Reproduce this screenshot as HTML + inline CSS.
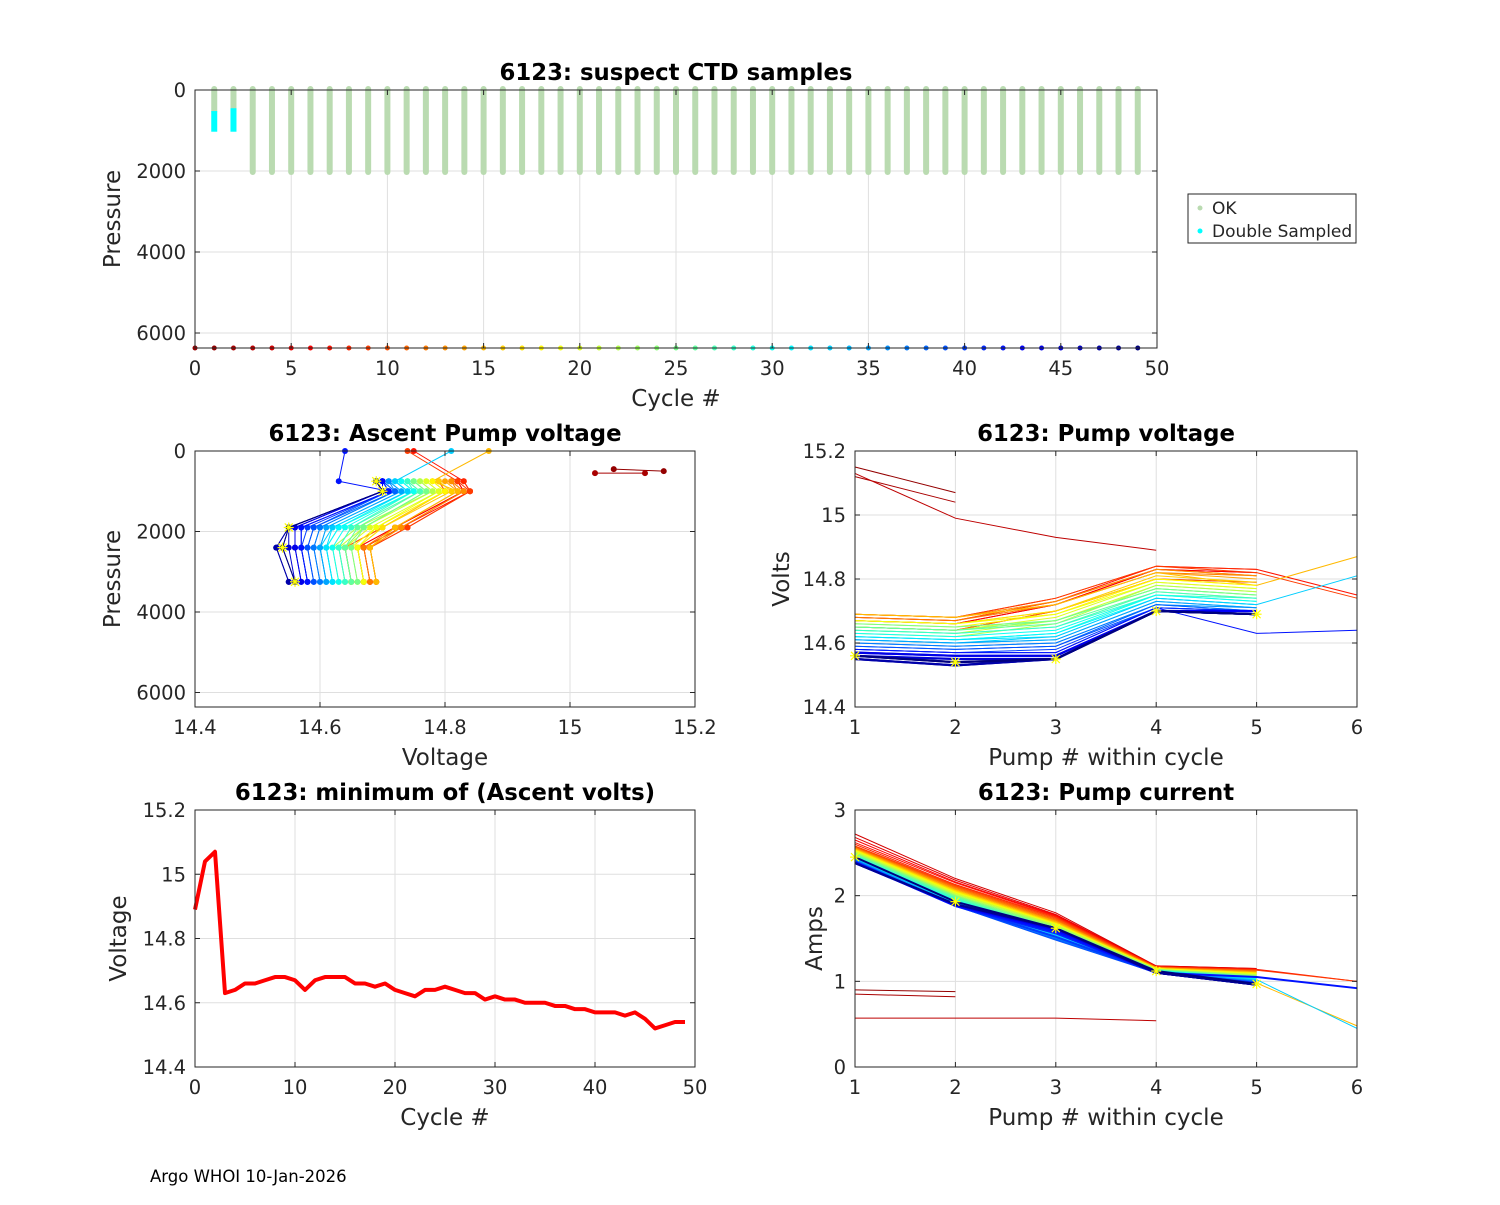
<!DOCTYPE html>
<html><head><meta charset="utf-8"><style>
body{margin:0;background:#fff;}
svg text{font-family:"DejaVu Sans","Liberation Sans",sans-serif;fill:#262626;}
</style></head><body>
<svg id="fig" width="1500" height="1200" xmlns="http://www.w3.org/2000/svg"></svg>
<script>
// ===== DATA =====
const cycles = [];
for (let c = 0; c <= 49; c++) cycles.push(c);
const minVolts = [14.89,15.04,15.07,14.63,14.64,14.66,14.66,14.67,14.68,14.68,14.67,14.64,14.67,14.68,14.68,14.68,14.66,14.66,14.65,14.66,14.64,14.63,14.62,14.64,14.64,14.65,14.64,14.63,14.63,14.61,14.62,14.61,14.61,14.60,14.60,14.60,14.59,14.59,14.58,14.58,14.57,14.57,14.57,14.56,14.57,14.55,14.52,14.53,14.54,14.54];
// pump voltages per cycle (cycles 1..49)
const pumpVolts = [
[15.15,15.07],[15.12,15.04],[15.13,14.99,14.93,14.89],
[14.65,14.64,14.70,14.80,14.79],[14.67,14.66,14.72,14.83,14.82],[14.67,14.66,14.72,14.83,14.82],
[14.68,14.67,14.73,14.84,14.83,14.75],[14.69,14.68,14.74,14.84,14.83],[14.69,14.68,14.74,14.84,14.82,14.74],
[14.68,14.67,14.73,14.83,14.81],[14.65,14.64,14.70,14.80,14.79],[14.68,14.67,14.72,14.82,14.81],
[14.69,14.68,14.73,14.83,14.81],[14.69,14.68,14.72,14.82,14.80],[14.69,14.68,14.72,14.82,14.78,14.87],
[14.67,14.66,14.70,14.81,14.79],[14.67,14.66,14.70,14.80,14.78],[14.66,14.65,14.69,14.80,14.78],
[14.67,14.66,14.69,14.79,14.77],[14.65,14.64,14.68,14.79,14.77],[14.64,14.63,14.67,14.78,14.76],
[14.63,14.62,14.66,14.78,14.76],[14.65,14.64,14.67,14.77,14.75],[14.65,14.64,14.67,14.77,14.75],
[14.66,14.65,14.67,14.77,14.75],[14.65,14.64,14.66,14.76,14.74],[14.64,14.63,14.65,14.76,14.74],
[14.64,14.63,14.65,14.75,14.74],[14.62,14.61,14.63,14.75,14.73],[14.63,14.62,14.64,14.75,14.73],
[14.62,14.61,14.63,14.74,14.72],[14.62,14.61,14.62,14.74,14.72],[14.61,14.60,14.62,14.74,14.72,14.81],
[14.61,14.60,14.61,14.73,14.71],[14.61,14.60,14.61,14.73,14.71],[14.60,14.59,14.60,14.72,14.71],
[14.60,14.59,14.60,14.72,14.70],[14.59,14.58,14.59,14.72,14.70],[14.59,14.58,14.59,14.71,14.70],
[14.58,14.57,14.58,14.71,14.70],[14.58,14.57,14.57,14.71,14.70],[14.58,14.57,14.57,14.71,14.63,14.64],
[14.57,14.56,14.56,14.70,14.70],[14.57,14.56,14.56,14.70,14.69],[14.56,14.55,14.55,14.70,14.69],
[14.55,14.53,14.55,14.70,14.69],[14.55,14.53,14.55,14.70,14.69],[14.56,14.54,14.55,14.70,14.69],
[14.56,14.54,14.55,14.70,14.69]];
// pump currents per cycle (cycles 1..49)
const pumpAmps = [
[0.90,0.88],[0.85,0.82],[0.57,0.57,0.57,0.54],
[2.72,2.20,1.80,1.18,1.15],[2.68,2.18,1.78,1.18,1.15],[2.65,2.16,1.77,1.17,1.14],
[2.62,2.15,1.76,1.17,1.14,1.00],[2.60,2.13,1.75,1.17,1.14],[2.58,2.12,1.74,1.17,1.13,1.00],
[2.57,2.11,1.73,1.16,1.13],[2.56,2.10,1.72,1.16,1.12],[2.56,2.09,1.71,1.16,1.12],
[2.55,2.08,1.70,1.16,1.11],[2.55,2.07,1.70,1.16,1.11],[2.54,2.06,1.69,1.15,0.98,0.48],
[2.54,2.06,1.68,1.15,1.10],[2.53,2.05,1.68,1.15,1.10],[2.53,2.04,1.67,1.15,1.09],
[2.52,2.04,1.67,1.15,1.09],[2.52,2.03,1.66,1.14,1.08],[2.51,2.02,1.66,1.14,1.08],
[2.50,2.01,1.65,1.14,1.07],[2.50,2.00,1.64,1.14,1.07],[2.49,2.00,1.63,1.14,1.06],
[2.48,1.99,1.62,1.13,1.06],[2.48,1.98,1.61,1.13,1.05],[2.47,1.97,1.60,1.13,1.05],
[2.46,1.96,1.59,1.13,1.04],[2.45,1.95,1.58,1.12,1.04],[2.45,1.94,1.57,1.12,1.03],
[2.44,1.93,1.56,1.12,1.03],[2.44,1.92,1.55,1.12,1.02],[2.43,1.91,1.54,1.12,1.02,0.45],
[2.43,1.90,1.53,1.11,1.01],[2.42,1.90,1.52,1.11,1.01],[2.42,1.89,1.51,1.11,1.00],
[2.41,1.89,1.50,1.11,1.00],[2.41,1.88,1.49,1.11,0.99],[2.40,1.88,1.48,1.10,0.99],
[2.40,1.88,1.52,1.10,0.98],[2.39,1.88,1.56,1.10,0.98],[2.39,1.88,1.58,1.10,1.05,0.92],
[2.39,1.89,1.60,1.10,0.97],[2.38,1.89,1.61,1.10,0.97],[2.38,1.90,1.62,1.10,0.96],
[2.38,1.90,1.62,1.10,0.96],[2.38,1.90,1.62,1.10,0.96],[2.38,1.90,1.62,1.10,0.96],
[2.45,1.93,1.62,1.12,0.97]];
const ascentPres = [3250,2400,1900,1000,750,0];
const earlyPres = [[500,450],[550,550]];
const okCycles = [1,2,3,4,5,6,7,8,9,10,11,12,13,14,15,16,17,18,19,20,21,22,23,24,25,26,27,28,29,30,31,32,33,34,35,36,37,38,39,40,41,42,43,44,45,46,47,48,49];
const okTop = [0,0,0,0,0,0,0,0,0,0,0,0,0,0,0,0,0,0,0,0,0,0,0,0,0,0,0,0,0,0,0,0,0,0,0,0,0,0,0,0,0,0,0,0,0,0,0,0,0];
const okBottom = [500,500,2000,2000,2000,2000,2000,2000,2000,2000,2000,2000,2000,2000,2000,2000,2000,2000,2000,2000,2000,2000,2000,2000,2000,2000,2000,2000,2000,2000,2000,2000,2000,2000,2000,2000,2000,2000,2000,2000,2000,2000,2000,2000,2000,2000,2000,2000,2000];
const dblCycles = [1,2];
const dblTop = [520,450];
const dblBottom = [1030,1030];
const bottomPres = 6370;

// ===== HELPERS =====
const svg = document.getElementById('fig');
const NS = 'http://www.w3.org/2000/svg';
function el(tag, attrs, parent){const e=document.createElementNS(NS,tag);for(const k in attrs)e.setAttribute(k,attrs[k]);(parent||svg).appendChild(e);return e;}
function jet(t){
  const r=Math.min(Math.max(Math.min(4*t-1.5,-4*t+4.5),0),1);
  const g=Math.min(Math.max(Math.min(4*t-0.5,-4*t+3.5),0),1);
  const b=Math.min(Math.max(Math.min(4*t+0.5,-4*t+2.5),0),1);
  return `rgb(${Math.round(r*255)},${Math.round(g*255)},${Math.round(b*255)})`;}
function cycColor(c){return jet(1-c/49);}
function axes(o){
  const g=el('g',{});
  
  
  const X=v=>o.x0+(v-o.xmin)/(o.xmax-o.xmin)*(o.x1-o.x0);
  const Y=o.yrev?v=>o.y0+(v-o.ymin)/(o.ymax-o.ymin)*(o.y1-o.y0):v=>o.y1-(v-o.ymin)/(o.ymax-o.ymin)*(o.y1-o.y0);
  el('rect',{x:o.x0,y:o.y0,width:o.x1-o.x0,height:o.y1-o.y0,fill:'#fff'},g);
  o.xt.forEach(t=>{el('line',{x1:X(t),x2:X(t),y1:o.y0,y2:o.y1,stroke:'#dfdfdf','stroke-width':1},g);});
  o.yt.forEach(t=>{el('line',{x1:o.x0,x2:o.x1,y1:Y(t),y2:Y(t),stroke:'#dfdfdf','stroke-width':1},g);});
  const plot=el('g',{},g);
  const top=el('g',{},g);
  el('rect',{x:o.x0,y:o.y0,width:o.x1-o.x0,height:o.y1-o.y0,fill:'none',stroke:'#262626','stroke-width':1},top);
  o.xt.forEach((t,i)=>{el('line',{x1:X(t),x2:X(t),y1:o.y1,y2:o.y1-5,stroke:'#262626'},top);el('line',{x1:X(t),x2:X(t),y1:o.y0,y2:o.y0+5,stroke:'#262626'},top);
    const tx=el('text',{x:X(t),y:o.y1+27,'text-anchor':'middle','font-size':19.5},top);tx.textContent=o.xl[i];
    
    });
  o.yt.forEach((t,i)=>{el('line',{x1:o.x0,x2:o.x0+5,y1:Y(t),y2:Y(t),stroke:'#262626'},top);el('line',{x1:o.x1,x2:o.x1-5,y1:Y(t),y2:Y(t),stroke:'#262626'},top);
    const tx=el('text',{x:o.x0-9,y:Y(t)+7,'text-anchor':'end','font-size':19.5},top);tx.textContent=o.yl[i];
    
    });
  const ti=el('text',{x:(o.x0+o.x1)/2,y:o.y0-10,'text-anchor':'middle','font-size':22.8,'font-weight':'bold'},top);ti.textContent=o.title;
  
  
  ti.style.fill='#000';
  const xl=el('text',{x:(o.x0+o.x1)/2,y:o.y1+58,'text-anchor':'middle','font-size':23},top);xl.textContent=o.xlabel;
  
  
  const yx=o.x0-o.ylo, yy=(o.y0+o.y1)/2;
  const yl=el('text',{x:yx,y:yy,'text-anchor':'middle','font-size':23,transform:`rotate(-90 ${yx} ${yy})`},top);yl.textContent=o.ylabel;
  
  
  return {X,Y,plot};
}
function poly(pts,attrs,parent){return el('polyline',Object.assign({points:pts.map(p=>p.join(',')).join(' '),fill:'none'},attrs),parent);}
function star(x,y,parent){const g=el('g',{stroke:'#ffff00','stroke-width':1.2},parent);
  el('line',{x1:x-5,x2:x+5,y1:y,y2:y},g);el('line',{x1:x,x2:x,y1:y-5,y2:y+5},g);
  el('line',{x1:x-4,x2:x+4,y1:y-4,y2:y+4},g);el('line',{x1:x-4,x2:x+4,y1:y+4,y2:y-4},g);}

// ===== TOP =====
{
const a=axes({name:'suspect-ctd-panel',x0:195,x1:1157,y0:90,y1:348,xmin:0,xmax:50,ymin:0,ymax:6370,yrev:true,
  xt:[0,5,10,15,20,25,30,35,40,45,50],xl:['0','5','10','15','20','25','30','35','40','45','50'],
  yt:[0,2000,4000,6000],yl:['0','2000','4000','6000'],title:'6123: suspect CTD samples',xlabel:'Cycle #',ylabel:'Pressure',ylo:75});
okCycles.forEach((c,i)=>{const b=el('line',{x1:a.X(c),x2:a.X(c),y1:a.Y(okTop[i])-1,y2:a.Y(okBottom[i])+1,stroke:'#badbb1','stroke-width':6,'stroke-linecap':'round'},a.plot);
  
  });
dblCycles.forEach((c,i)=>{const b=el('line',{x1:a.X(c),x2:a.X(c),y1:a.Y(dblTop[i]),y2:a.Y(dblBottom[i]),stroke:'#00ffff','stroke-width':6},a.plot);
  
  });
el('line',{x1:195,x2:a.X(49),y1:a.Y(bottomPres),y2:a.Y(bottomPres),stroke:'#000','stroke-width':1},a.plot);
cycles.forEach(c=>{const d=el('circle',{cx:a.X(c),cy:a.Y(bottomPres),r:2.5,fill:cycColor(Math.max(c,1))},a.plot);
  
  });
const lg=el('g',{});


el('rect',{x:1188,y:194,width:168,height:49,fill:'#fff',stroke:'#262626'},lg);
el('circle',{cx:1200,cy:208,r:2.5,fill:'#badbb1'},lg);
el('circle',{cx:1200,cy:231,r:2.5,fill:'#00ffff'},lg);
const t1=el('text',{x:1212,y:214,'font-size':17},lg);t1.textContent='OK';


const t2=el('text',{x:1212,y:237,'font-size':17},lg);t2.textContent='Double Sampled';


}

// ===== MID LEFT =====
{
const a=axes({name:'ascent-pump-voltage-panel',x0:195,x1:695,y0:451,y1:707,xmin:14.4,xmax:15.2,ymin:0,ymax:6360,yrev:true,
  xt:[14.4,14.6,14.8,15,15.2],xl:['14.4','14.6','14.8','15','15.2'],
  yt:[0,2000,4000,6000],yl:['0','2000','4000','6000'],title:'6123: Ascent Pump voltage',xlabel:'Voltage',ylabel:'Pressure',ylo:75});
pumpVolts.forEach((row,i)=>{const c=i+1;if(c===3)return;const col=cycColor(c);
  const pr=i<2?earlyPres[i]:ascentPres;
  const pts=row.map((v,j)=>[a.X(v),a.Y(pr[j])]);
  const l=poly(pts,{stroke:col,'stroke-width':1},a.plot);
  
  
  pts.forEach(p=>{const d=el('circle',{cx:p[0],cy:p[1],r:3,fill:col},a.plot);
    
    });
  if(c===49) pts.forEach(p=>star(p[0],p[1],a.plot));
});
}

// ===== MID RIGHT =====
{
const a=axes({name:'pump-voltage-panel',x0:855,x1:1357,y0:451,y1:707,xmin:1,xmax:6,ymin:14.4,ymax:15.2,
  xt:[1,2,3,4,5,6],xl:['1','2','3','4','5','6'],
  yt:[14.4,14.6,14.8,15,15.2],yl:['14.4','14.6','14.8','15','15.2'],title:'6123: Pump voltage',xlabel:'Pump # within cycle',ylabel:'Volts',ylo:66});
pumpVolts.forEach((row,i)=>{const c=i+1;
  const l=poly(row.map((v,j)=>[a.X(j+1),a.Y(v)]),{stroke:cycColor(c),'stroke-width':c>=43?2.2:1},a.plot);
  
  
  if(c===49) row.forEach((v,j)=>star(a.X(j+1),a.Y(v),a.plot));
});
}

// ===== BOTTOM LEFT =====
{
const a=axes({name:'min-ascent-volts-panel',x0:195,x1:695,y0:810,y1:1067,xmin:0,xmax:50,ymin:14.4,ymax:15.2,
  xt:[0,10,20,30,40,50],xl:['0','10','20','30','40','50'],
  yt:[14.4,14.6,14.8,15,15.2],yl:['14.4','14.6','14.8','15','15.2'],title:'6123: minimum of (Ascent volts)',xlabel:'Cycle #',ylabel:'Voltage',ylo:69});
const l=poly(minVolts.map((v,i)=>[a.X(cycles[i]),a.Y(v)]),{stroke:'#ff0000','stroke-width':4,'stroke-linejoin':'round'},a.plot);


}

// ===== BOTTOM RIGHT =====
{
const a=axes({name:'pump-current-panel',x0:855,x1:1357,y0:810,y1:1067,xmin:1,xmax:6,ymin:0,ymax:3,
  xt:[1,2,3,4,5,6],xl:['1','2','3','4','5','6'],
  yt:[0,1,2,3],yl:['0','1','2','3'],title:'6123: Pump current',xlabel:'Pump # within cycle',ylabel:'Amps',ylo:33});
pumpAmps.forEach((row,i)=>{const c=i+1;
  const l=poly(row.map((v,j)=>[a.X(j+1),a.Y(v)]),{stroke:cycColor(c),'stroke-width':c>=40?2:1},a.plot);
  
  
  if(c===49) row.forEach((v,j)=>star(a.X(j+1),a.Y(v),a.plot));
});
}

const ft=el('text',{x:150,y:1182,'font-size':16.5});ft.textContent='Argo WHOI 10-Jan-2026';


ft.style.fill='#000';
</script>
</body></html>
